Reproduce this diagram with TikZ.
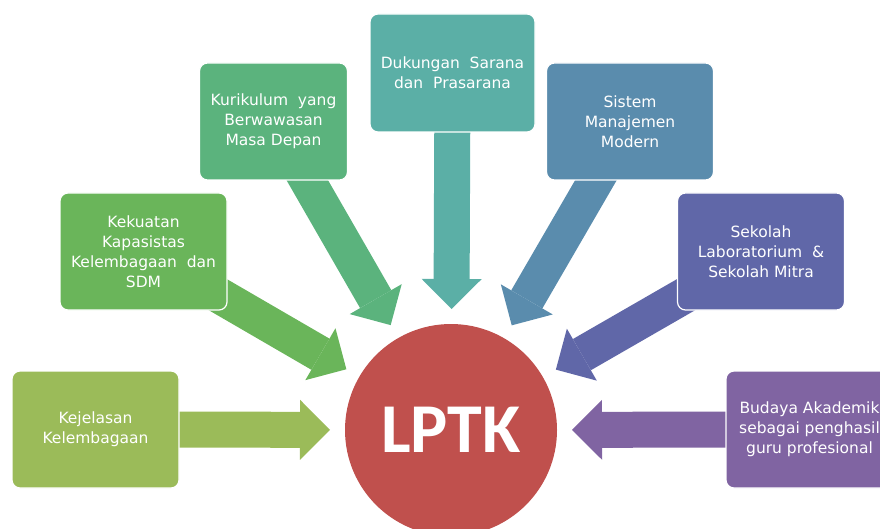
\documentclass[tikz,border=0pt]{standalone}
\usepackage{fontspec}
\setmainfont{DejaVu Sans}
\newfontfamily\lptkfont{Carlito}
\usetikzlibrary{arrows.meta,backgrounds}
\definecolor{cA}{HTML}{9BBB59}
\definecolor{cB}{HTML}{6AB55A}
\definecolor{cC}{HTML}{5BB37D}
\definecolor{cD}{HTML}{5BAFA6}
\definecolor{cE}{HTML}{5A8CAD}
\definecolor{cF}{HTML}{6067A8}
\definecolor{cG}{HTML}{8064A2}
\definecolor{lptkred}{HTML}{C0504D}
\tikzset{
  infobox/.style={rectangle, rounded corners=8pt, minimum width=167pt, minimum height=117pt,
    draw=white, line width=1.2pt, text=white, align=center,
    font=\fontsize{15.5}{20}\selectfont, inner sep=2pt},
  blockarrow/.style={line width=36pt, shorten >=15pt,
    -{Triangle[width=60pt,length=30pt,line width=0pt]}}
}
\begin{document}
\begin{tikzpicture}[x=1pt,y=-1pt]
\useasboundingbox (0,0) rectangle (880,529);
\clip (0,0) rectangle (880,529);
\node[circle, minimum size=212pt, inner sep=0pt, outer sep=0pt, fill=lptkred,
  text=white, font=\lptkfont\bfseries\fontsize{70}{70}\selectfont] (lptk) at (451,430) {LPTK};
\node[infobox, fill=cA] (b1) at (95.5,429.5) {Kejelasan\\Kelembagaan};
\node[infobox, fill=cB] (b2) at (143.5,251.5) {Kekuatan\\Kapasistas\\Kelembagaan\ \ dan\\SDM};
\node[infobox, fill=cC, minimum width=148pt] (b3) at (273.5,121.5) {Kurikulum\ \ yang\\Berwawasan\\Masa Depan};
\node[infobox, fill=cD, minimum width=165pt, minimum height=118pt] (b4) at (452.5,73) {Dukungan\ \ Sarana\\dan\ \ Prasarana};
\node[infobox, fill=cE] (b5) at (630,121.5) {Sistem\\Manajemen\\Modern};
\node[infobox, fill=cF] (b6) at (761,251.5) {Sekolah\\Laboratorium\ \ \&\\Sekolah Mitra};
\node[infobox, fill=cG] (b7) at (809.5,429.5) {Budaya Akademik\\sebagai penghasil\\guru profesional};
\begin{scope}[on background layer]
\draw[blockarrow, cA] (b1.center) -- (lptk);
\draw[blockarrow, cB] (b2.center) -- (lptk);
\draw[blockarrow, cC] (b3.center) -- (lptk);
\draw[blockarrow, cD] (b4.center) -- (lptk);
\draw[blockarrow, cE] (b5.center) -- (lptk);
\draw[blockarrow, cF] (b6.center) -- (lptk);
\draw[blockarrow, cG] (b7.center) -- (lptk);
\end{scope}
\end{tikzpicture}
\end{document}
